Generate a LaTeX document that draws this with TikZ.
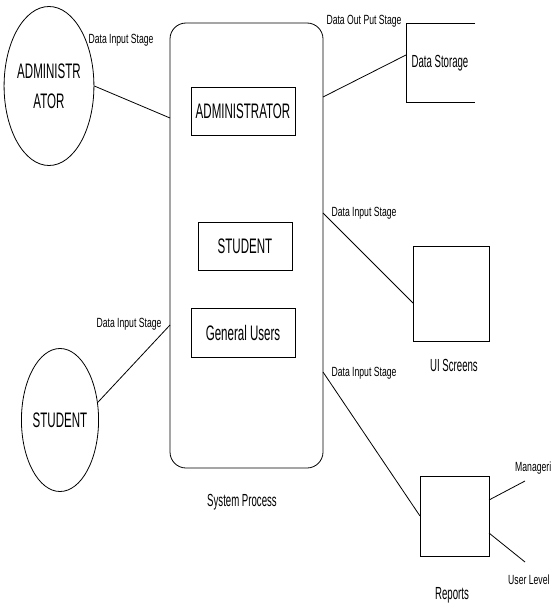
\documentclass[tikz,border=0pt]{standalone}
\usepackage{fontspec}
\usetikzlibrary{shapes.geometric}
\newfontfamily\narrowbig[FakeStretch=0.55]{Liberation Sans}
\newfontfamily\narrowsmall[FakeStretch=0.65]{Liberation Sans}
\tikzset{
  flow/.style={line width=0.8pt},
  actor/.style={draw, line width=0.8pt, ellipse, inner sep=0pt, align=center,
    font=\narrowbig\fontsize{21}{30}\selectfont},
  entity/.style={draw, line width=0.8pt, inner sep=0pt,
    font=\narrowbig\fontsize{21}{25}\selectfont},
  stagelabel/.style={inner sep=0pt, font=\narrowsmall\fontsize{13.3}{15}\selectfont},
  caption/.style={inner sep=0pt, font=\narrowbig\fontsize{17.5}{20}\selectfont},
}
\begin{document}
\begin{tikzpicture}[x=1pt, y=-1pt]
\useasboundingbox (0,0) rectangle (550,607);

% external actors
\node[actor, minimum width=77pt, minimum height=159pt] (admin) at (49,86)
  {ADMINISTR\\ATOR};
\node[actor, minimum width=67pt, minimum height=143pt] (student) at (60,420)
  {STUDENT};

% system process with its internal modules
\draw[line width=0.8pt, rounded corners=16pt] (170,23) rectangle (323,468);
\coordinate (sysA) at (170,118);
\coordinate (sysS) at (170,325);
\coordinate (sysD) at (323,97);
\coordinate (sysU) at (323,213);
\coordinate (sysR) at (323,372);
\node[caption] (syslabel) at (242,502) {System Process};

\node[entity, minimum width=104pt, minimum height=48pt] (madmin) at (243,111) {ADMINISTRATOR};
\node[entity, minimum width=94pt, minimum height=48pt] (mstudent) at (245,246) {STUDENT};
\node[entity, minimum width=104pt, minimum height=49pt] (mgeneral) at (243,332.5) {General Users};

% data storage (open-ended store)
\draw[line width=0.8pt] (475,23) -- (406,23) -- (406,102) -- (475,102);
\coordinate (storeL) at (406,55);
\node[caption] (storage) at (440,63) {Data Storage};

% UI screens
\node[draw, line width=0.8pt, minimum width=76pt, minimum height=95pt, inner sep=0pt]
  (ui) at (451,293.5) {};
\node[caption] (uilabel) at (454,365) {UI Screens};
\coordinate (uiL) at (413,303);

% reports
\node[draw, line width=0.8pt, minimum width=69pt, minimum height=80pt, inner sep=0pt]
  (reports) at (454.5,516) {};
\node[caption] (replabel) at (452,595) {Reports};
\coordinate (repL) at (420,516);
\coordinate (repM) at (489,500);
\coordinate (repU) at (489,533);
\coordinate (manEnd) at (525,481);
\coordinate (userEnd) at (525,562);

% data flows
\draw[flow] (admin.east) -- (sysA);
\draw[flow] (student.25) -- (sysS);
\draw[flow] (sysD) -- (storeL);
\draw[flow] (sysU) -- (uiL);
\draw[flow] (sysR) -- (repL);
\draw[flow] (repM) -- (manEnd);
\draw[flow] (repU) -- (userEnd);

% flow labels
\node[stagelabel] (l1) at (121,40) {Data Input Stage};
\node[stagelabel] (l2) at (129,324) {Data Input Stage};
\node[stagelabel] (l3) at (364,21) {Data Out Put Stage};
\node[stagelabel] (l4) at (364,213) {Data Input Stage};
\node[stagelabel] (l5) at (364,373) {Data Input Stage};
\node[stagelabel, anchor=west] (l6) at (515,468) {Managerial};
\node[stagelabel, anchor=west] (l7) at (508,580) {User Level};
\end{tikzpicture}
\end{document}
